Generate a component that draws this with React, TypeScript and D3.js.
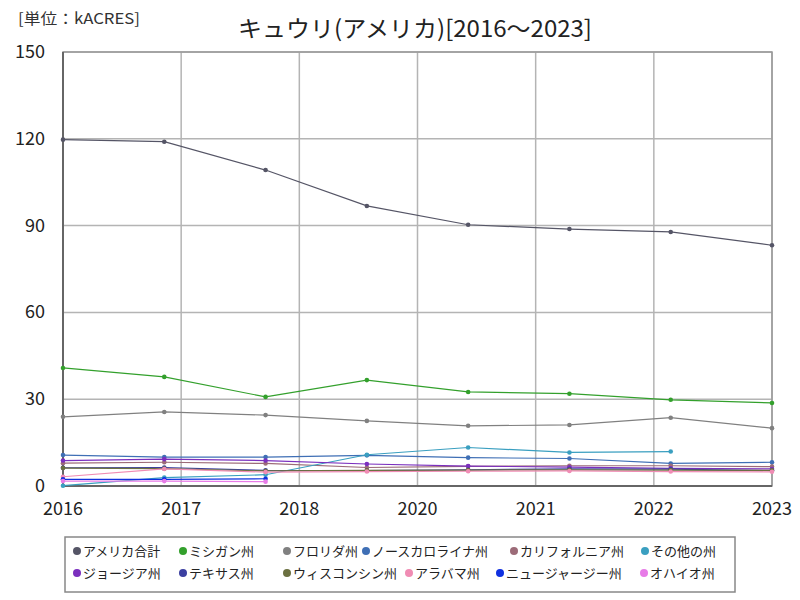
import React from "react";
import * as d3 from "d3";

const years = [2016, 2017, 2018, 2019, 2020, 2021, 2022, 2023];
const seriesNames = [
  "アメリカ合計", "ミシガン州", "フロリダ州", "ノースカロライナ州", "カリフォルニア州", "その他の州",
  "ジョージア州", "テキサス州", "ウィスコンシン州", "アラバマ州", "ニュージャージー州", "オハイオ州",
];
const seriesColors = [
  "#555566", "#33a02c", "#808080", "#3f6fb5", "#9c6b78", "#3a9fc0",
  "#7b2fbe", "#3b3fa0", "#6b7040", "#f08cb4", "#1030e0", "#e77be7",
];
const usTotal = [119.7, 119.0, 109.2, 96.8, 90.3, 88.8, 87.8, 83.2];
const michigan = [40.8, 37.7, 30.8, 36.6, 32.5, 31.9, 29.8, 28.7];
const florida = [23.9, 25.6, 24.5, 22.5, 20.8, 21.1, 23.6, 20.0];
const northCarolina = [10.7, 10.0, 10.0, 10.6, 9.8, 9.5, 7.8, 8.2];
const california = [7.9, 8.2, 7.8, 6.4, 6.8, 7.0, 7.0, 6.7];
const otherStates = [0.1, 2.9, 3.9, 10.8, 13.3, 11.6, 11.9, NaN];
const georgia = [8.8, 9.3, 8.8, 7.6, 6.9, 6.5, 6.1, 5.9];
const texas = [6.3, 6.4, 5.4, 5.3, 5.6, 5.9, 5.8, 5.3];
const wisconsin = [6.2, 6.0, 5.2, 5.4, 5.5, 5.6, 5.5, 5.4];
const alabama = [3.2, 5.9, 4.8, 5.0, 5.1, 5.2, 5.0, 4.9];
const newJersey = [2.3, 2.3, 2.5, NaN, NaN, NaN, NaN, NaN];
const ohio = [1.7, 1.7, 1.5, NaN, NaN, NaN, NaN, NaN];
const seriesValues = [
  usTotal, michigan, florida, northCarolina, california, otherStates,
  georgia, texas, wisconsin, alabama, newJersey, ohio,
];
const yTicks = [0, 30, 60, 90, 120, 150];
const xTickCount = 6;

const title = "キュウリ(アメリカ)[2016～2023]";
const unitLabel = "[単位：kACRES]";

const FONT = "'Noto Sans CJK JP', 'Noto Sans', sans-serif";

export default function App() {
  const W = 800, H = 600;
  const left = 63, right = 772, top = 52, bottom = 486;
  const x = d3.scaleLinear().domain([years[0], years[years.length - 1]]).range([left, right]);
  const y = d3.scaleLinear().domain([0, 150]).range([bottom, top]);
  const xTicks = d3.range(xTickCount + 1).map(i => years[0] + (i * (years[years.length - 1] - years[0])) / xTickCount);
  const line = d3.line<number>()
    .defined(v => !isNaN(v))
    .x((_, i) => x(years[i]))
    .y(v => y(v));

  const legendRows = [
    { y: 551, xs: [77, 183, 287, 366, 514, 645] },
    { y: 573, xs: [77, 183, 287, 409, 500, 644] },
  ];

  return (
    <svg width={W} height={H} style={{ position: "absolute", left: 0, top: 0 }} fontFamily={FONT}>
      <rect x={0} y={0} width={W} height={H} fill="#fff" />
      <text x={18} y={24} fontSize={15} fill="#333" textLength={122} lengthAdjust="spacingAndGlyphs">{unitLabel}</text>
      <text x={238} y={37} fontSize={23} fill="#222" textLength={354} lengthAdjust="spacingAndGlyphs">{title}</text>

      {/* grid */}
      {yTicks.map(t => (
        <line key={"gy" + t} x1={left} x2={right} y1={y(t)} y2={y(t)} stroke="#b4b4b4" strokeWidth={1.5} />
      ))}
      {xTicks.map((t, i) => (
        <line key={"gx" + i} x1={x(t)} x2={x(t)} y1={top} y2={bottom} stroke="#b4b4b4" strokeWidth={1.5} />
      ))}
      <rect x={left} y={top} width={right - left} height={bottom - top} fill="none" stroke="#999" strokeWidth={1.5} />
      <line x1={left} x2={left} y1={top} y2={bottom} stroke="#666" strokeWidth={2} />
      <line x1={left} x2={right} y1={bottom} y2={bottom} stroke="#666" strokeWidth={2} />

      {/* axis labels */}
      {yTicks.map(t => (
        <text key={"ly" + t} x={45} y={y(t) + 6} fontSize={18} textAnchor="end" fill="#222">{t}</text>
      ))}
      {xTicks.map((t, i) => (
        <text key={"lx" + i} x={x(t)} y={515} fontSize={18} textAnchor="middle" fill="#222">{Math.round(t)}</text>
      ))}

      {/* series */}
      {seriesValues.map((vals, si) => (
        <g key={"s" + si}>
          <path d={line(vals) || ""} fill="none" stroke={seriesColors[si]} strokeWidth={1.2} />
          {vals.map((v, i) => isNaN(v) ? null : (
            <circle key={i} cx={x(years[i])} cy={y(v)} r={2.3} fill={seriesColors[si]} />
          ))}
        </g>
      ))}

      {/* legend */}
      <rect x={65} y={537} width={670} height={55} fill="#fff" stroke="#888" strokeWidth={1.5} />
      {legendRows.map((row, ri) => row.xs.map((lx, ci) => {
        const si = ri * 6 + ci;
        return (
          <g key={"lg" + si}>
            <circle cx={lx} cy={row.y} r={4} fill={seriesColors[si]} />
            <text x={lx + 6} y={row.y + 5} fontSize={13} fill="#222">{seriesNames[si]}</text>
          </g>
        );
      }))}
    </svg>
  );
}
